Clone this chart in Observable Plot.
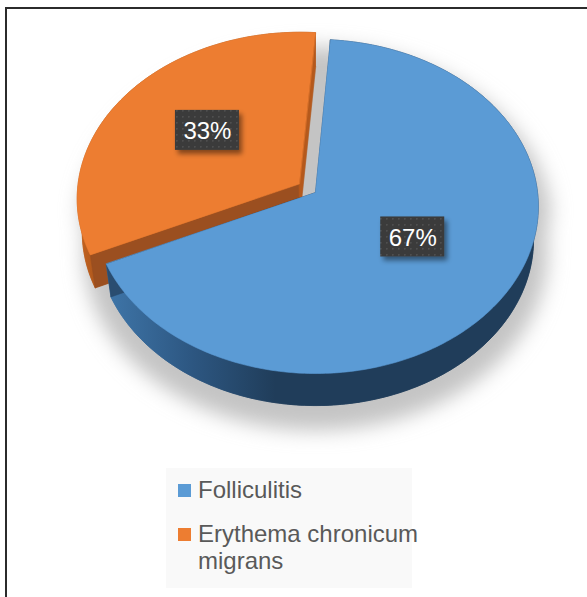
<!DOCTYPE html>
<html><head><meta charset="utf-8">
<script src="https://cdn.jsdelivr.net/npm/d3@7"></script>
<script src="https://cdn.jsdelivr.net/npm/@observablehq/plot@0.6"></script>
<style>
html,body{margin:0;padding:0;background:#fff;}
#wrap{position:relative;width:587px;height:597px;overflow:hidden;font-family:"Liberation Sans",Arial,sans-serif;}
#wrap svg{position:absolute;left:0;top:0;}
#frame{position:absolute;left:5px;top:7px;right:-10px;bottom:-10px;border-top:2px solid #2b2b2b;border-left:2px solid #2b2b2b;pointer-events:none;}
#legend{position:absolute;left:166px;top:468px;width:246px;height:120px;background:#f9f9f9;}
.item{position:absolute;left:0;width:260px;}
.sw{position:absolute;left:12px;width:13px;height:13px;}
.lt{position:absolute;left:32px;font-size:24px;line-height:27px;color:#595959;white-space:normal;width:228px;}
</style></head>
<body><div id="wrap"><div id="legend"></div><div id="frame"></div></div>
<script>
// ---- data ----
const categories = ["Folliculitis", "Erythema chronicum migrans"];
const values = [67, 33];
const percentLabels = ["67%", "33%"];
const sliceColors = ["#5b9bd5", "#ed7d31"];

// ---- view / style constants ----
const view = {cx: 315, cy: 192, f: 1763, D: 7.94, sin: 0.747, cos: 0.665, depth: 0.23, start: 4.2 * Math.PI / 180};
const explode = [0, 0.09];
const wallFill = ["url(#blueWall)", "url(#orangeWall)"];
const faceFill = ["#2a4d70", "#9b4f20"];
const endFaceFill = ["#2a4d70", "#b5591c"];
const labelStyle = {r: 0.52, dy: -6, halfW: 32, halfH: 20, fontSize: 24};

function proj(x, z, y) {
  const dep = view.D + z * view.cos - y * view.sin;
  return {x: view.cx + view.f * x / dep, y: view.cy - view.f * (z * view.sin + y * view.cos) / dep};
}
const STEP = Math.PI / 180;
function arcPts(ox, oz, a0, a1, y, r = 1) {
  const n = Math.max(2, Math.ceil(Math.abs(a1 - a0) / STEP));
  const pts = [];
  for (let k = 0; k <= n; k++) {
    const t = a0 + (a1 - a0) * k / n;
    pts.push(proj(ox + r * Math.sin(t), oz + r * Math.cos(t), y));
  }
  return pts;
}

const arcs = d3.pie().sort(null).startAngle(view.start).endAngle(view.start + 2 * Math.PI)(values);
const H = view.depth;

function poly(pts, fill, cls) {
  return Plot.line(pts, {x: "x", y: "y", curve: "linear-closed", fill, stroke: fill, strokeWidth: 0.6, className: cls});
}

const marks = [];
// shadow (whole pie silhouette, blurred)
{
  const r = 1.07;
  const back = arcPts(0, 0, Math.PI * 1.5, Math.PI * 2.5, -0.12, r);
  const front = arcPts(0, 0, Math.PI * 0.5, Math.PI * 1.5, -H - 0.08, r);
  marks.push(poly([...front, ...back], "#c4c4c4", "pieshadow"));
}
// slices: draw exploded (behind) slice first
const order = [1, 0];
for (const i of order) {
  const a = arcs[i];
  const mid = (a.startAngle + a.endAngle) / 2;
  const ox = explode[i] * Math.sin(mid), oz = explode[i] * Math.cos(mid);
  const apexTop = proj(ox, oz, 0), apexBot = proj(ox, oz, -H);
  const top = arcPts(ox, oz, a.startAngle, a.endAngle, 0);
  const bot = arcPts(ox, oz, a.startAngle, a.endAngle, -H);
  marks.push(poly([apexBot, ...bot], wallFill[i], "bottom"));
  marks.push(poly([...top, ...bot.slice().reverse()], wallFill[i], "wall"));
  marks.push(poly([apexTop, top[0], bot[0], apexBot], faceFill[i], "face"));
  marks.push(poly([apexTop, top[top.length - 1], bot[bot.length - 1], apexBot], endFaceFill[i], "face"));
  marks.push(poly([apexTop, ...top], sliceColors[i], "top"));
}

// labels
const labelData = arcs.map((a, i) => {
  const mid = (a.startAngle + a.endAngle) / 2;
  const ox = explode[i] * Math.sin(mid), oz = explode[i] * Math.cos(mid);
  const p = proj(ox + labelStyle.r * Math.sin(mid), oz + labelStyle.r * Math.cos(mid), 0);
  return {x: p.x, y: p.y + labelStyle.dy, text: percentLabels[i]};
});
marks.push(Plot.rect(labelData, {
  x1: d => d.x - labelStyle.halfW, x2: d => d.x + labelStyle.halfW,
  y1: d => d.y - labelStyle.halfH, y2: d => d.y + labelStyle.halfH,
  fill: "url(#dots)", className: "labelbox"}));
marks.push(Plot.text(labelData, {x: "x", y: "y", text: "text", fill: "#ffffff", fontSize: labelStyle.fontSize, fontFamily: "Liberation Sans, Arial, sans-serif", dy: 1}));

const svg = Plot.plot({
  width: 587, height: 597, margin: 0,
  x: {domain: [0, 587], range: [0, 587], axis: null},
  y: {domain: [0, 597], range: [0, 597], axis: null},
  style: {background: "transparent", overflow: "visible"},
  marks
});
svg.insertAdjacentHTML("afterbegin", `<defs>
  <filter id="blur" x="-30%" y="-30%" width="160%" height="160%"><feGaussianBlur stdDeviation="10"/></filter>
  <filter id="boxShadow" x="-30%" y="-40%" width="170%" height="190%"><feDropShadow dx="3" dy="4" stdDeviation="2.5" flood-color="#000" flood-opacity="0.45"/></filter>
  <linearGradient id="blueWall" gradientUnits="userSpaceOnUse" x1="105" y1="0" x2="275" y2="0">
    <stop offset="0" stop-color="#3f76a9"/><stop offset="0.5" stop-color="#2d5782"/><stop offset="1" stop-color="#203d5a"/>
  </linearGradient>
  <linearGradient id="orangeWall" gradientUnits="userSpaceOnUse" x1="75" y1="0" x2="100" y2="0">
    <stop offset="0" stop-color="#c9651f"/><stop offset="1" stop-color="#a9561d"/>
  </linearGradient>
  <pattern id="dots" width="6" height="6" patternUnits="userSpaceOnUse">
    <rect width="6" height="6" fill="#3a3a3a"/><rect x="2" y="2" width="1.6" height="1.6" fill="#505050"/>
  </pattern>
</defs>`);
const sh = svg.querySelector("g.pieshadow");
if (sh) sh.setAttribute("filter", "url(#blur)");
const lb = svg.querySelector("g.labelbox");
if (lb) lb.setAttribute("filter", "url(#boxShadow)");
const wrap = document.getElementById("wrap");
wrap.insertBefore(svg, wrap.firstChild);

// legend
const legend = document.getElementById("legend");
const itemTops = [8, 52];
categories.forEach((c, i) => {
  const it = document.createElement("div");
  it.className = "item";
  it.style.top = itemTops[i] + "px";
  it.innerHTML = `<div class="sw" style="top:8px;background:${sliceColors[i]}"></div><div class="lt" style="top:0">${c}</div>`;
  legend.appendChild(it);
});
</script>
</body></html>
